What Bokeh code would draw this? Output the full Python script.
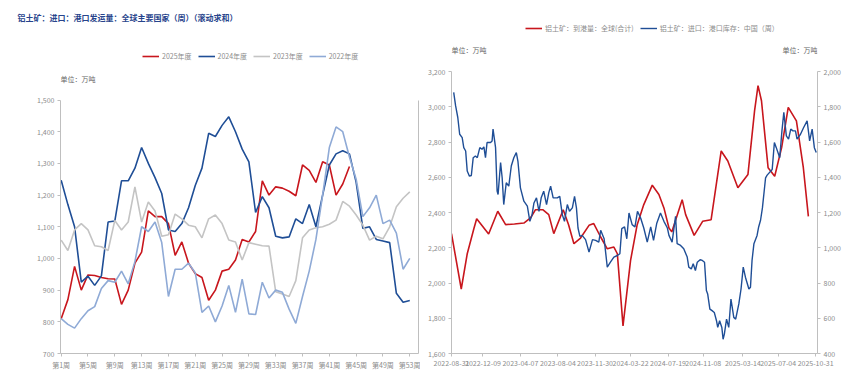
from bokeh.plotting import figure
from bokeh.models import (Range1d, LinearAxis, FixedTicker, NumeralTickFormatter, Legend,
                          LegendItem, Label, DatetimeTickFormatter)
from bokeh.layouts import row
from bokeh.embed import file_html
from bokeh.resources import INLINE
import pandas as pd

# ---------------- left chart data ----------------
weeks = list(range(1, 54))
week_ticks = [1, 5, 9, 13, 17, 21, 25, 29, 33, 37, 41, 45, 49, 53]
week_tick_labels = ["第1周", "第5周", "第9周", "第13周", "第17周", "第21周", "第25周",
                    "第29周", "第33周", "第37周", "第41周", "第45周", "第49周", "第53周"]
series_names = ["2025年度", "2024年度", "2023年度", "2022年度"]

s2025 = [810, 870, 975, 900, 948, 946, 940, 936, 935, 855,
         900, 985, 1020, 1150, 1132, 1132, 1110, 1010, 1052, 985,
         952, 940, 868, 900, 960, 966, 995, 1060, 1052, 1085,
         1245, 1200, 1226, 1222, 1212, 1198, 1295, 1278, 1240, 1305,
         1295, 1200, 1235, 1290]
s2024 = [1247, 1170, 1100, 925, 944, 915, 945, 1115, 1118, 1245,
         1245, 1285, 1350, 1300, 1255, 1205, 1090, 1085, 1110, 1160,
         1230, 1285, 1395, 1385, 1420, 1447, 1400, 1345, 1305, 1145,
         1195, 1160, 1070, 1065, 1068, 1125, 1110, 1170, 1100, 1200,
         1295, 1330, 1340, 1330, 1240, 1095, 1100, 1060, 1055, 1050,
         890, 862, 867]
s2023 = [1058, 1025, 1090, 1110, 1090, 1040, 1037, 1025, 1120, 1090,
         1115, 1226, 1115, 1178, 1150, 1070, 1075, 1140, 1125, 1105,
         1100, 1065, 1125, 1137, 1110, 1058, 1052, 995, 1050, 1045,
         1040, 1039, 895, 888, 880, 930, 1065, 1090, 1097, 1100,
         1108, 1121, 1180, 1165, 1137, 1105, 1058, 1070, 1062, 1100,
         1163, 1190, 1210]
s2022 = [810, 792, 780, 810, 835, 848, 905, 930, 925, 960,
         920, 990, 1100, 1085, 1115, 1050, 880, 966, 966, 985,
         955, 830, 850, 800, 850, 915, 830, 935, 825, 823,
         925, 875, 900, 893, 840, 795, 880, 960, 1060, 1200,
         1350, 1415, 1400, 1320, 1250, 1132, 1160, 1200, 1110, 1121,
         1080, 966, 1000]

# ---------------- right chart data ----------------
arrival_name = "铝土矿：到港量：全球(合计)"
stock_name = "铝土矿：进口：港口库存：中国（周）"
arrival_dates = ["2022-08-31", "2022-10-01", "2022-10-20", "2022-11-10", "2022-11-19", "2022-12-27",
                 "2023-01-25", "2023-02-19", "2023-03-19", "2023-04-18", "2023-05-09", "2023-05-25",
                 "2023-06-17", "2023-07-06", "2023-07-22", "2023-08-21", "2023-09-07", "2023-09-24",
                 "2023-10-15", "2023-11-11", "2023-11-26", "2023-12-18", "2024-01-08", "2024-01-29",
                 "2024-02-09", "2024-02-27", "2024-03-22", "2024-04-12", "2024-05-03", "2024-05-30",
                 "2024-06-20", "2024-07-06", "2024-07-22", "2024-07-31", "2024-09-02", "2024-09-13",
                 "2024-10-10", "2024-11-06", "2024-12-03", "2025-01-04", "2025-01-25", "2025-02-26",
                 "2025-03-30", "2025-04-20", "2025-05-01", "2025-05-12", "2025-06-02", "2025-06-23",
                 "2025-07-15", "2025-08-05", "2025-08-31", "2025-09-22", "2025-10-08"]
arrival_values = [2280, 1966, 2166, 2308, 2365, 2278,
                  2407, 2331, 2335, 2340, 2369, 2416,
                  2416, 2388, 2280, 2416, 2331, 2223,
                  2255, 2327, 2337, 2261, 2194, 2204,
                  2166, 1757, 2128, 2331, 2445, 2555,
                  2502, 2426, 2312, 2290, 2473, 2388,
                  2270, 2350, 2359, 2749, 2692, 2540,
                  2616, 2977, 3120, 3034, 2654, 2606,
                  2768, 2996, 2920, 2654, 2378]

stock_dates = ["2022-09-07", "2022-09-13", "2022-09-20", "2022-09-26", "2022-10-04", "2022-10-09",
               "2022-10-15", "2022-10-20", "2022-10-27", "2022-11-02", "2022-11-08", "2022-11-15",
               "2022-11-21", "2022-11-29", "2022-12-06", "2022-12-12", "2022-12-17", "2022-12-22",
               "2023-01-02", "2023-01-07", "2023-01-10", "2023-01-18", "2023-01-23", "2023-01-26",
               "2023-02-03", "2023-02-08", "2023-02-13", "2023-02-21", "2023-03-01", "2023-03-09",
               "2023-03-17", "2023-03-25", "2023-03-30", "2023-04-07", "2023-04-18", "2023-04-29",
               "2023-05-07", "2023-05-14", "2023-05-20", "2023-05-28", "2023-06-05", "2023-06-12",
               "2023-06-20", "2023-06-29", "2023-07-06", "2023-07-12", "2023-07-20", "2023-08-02",
               "2023-08-10", "2023-08-18", "2023-08-25", "2023-09-03", "2023-09-10", "2023-09-19",
               "2023-09-26", "2023-10-02", "2023-10-07", "2023-10-13", "2023-10-20", "2023-10-31",
               "2023-11-11", "2023-11-22", "2023-12-02", "2023-12-12", "2023-12-18", "2023-12-29",
               "2024-01-08", "2024-01-18", "2024-01-29", "2024-02-09", "2024-02-17", "2024-02-23",
               "2024-03-03", "2024-03-10", "2024-03-17", "2024-03-27", "2024-04-05", "2024-04-13",
               "2024-04-23", "2024-05-03", "2024-05-14", "2024-05-25", "2024-06-03", "2024-06-13",
               "2024-06-25", "2024-07-06", "2024-07-17", "2024-07-22", "2024-08-01", "2024-08-06",
               "2024-08-12", "2024-08-17", "2024-08-28", "2024-09-07", "2024-09-18", "2024-09-23",
               "2024-10-01", "2024-10-07", "2024-10-14", "2024-10-20", "2024-10-29", "2024-11-05",
               "2024-11-12", "2024-11-18", "2024-11-22", "2024-11-29", "2024-12-06", "2024-12-13",
               "2024-12-20", "2024-12-24", "2024-12-30", "2025-01-06", "2025-01-10", "2025-01-14",
               "2025-01-21", "2025-01-28", "2025-02-04", "2025-02-13", "2025-02-19", "2025-03-01",
               "2025-03-08", "2025-03-15", "2025-03-22", "2025-04-02", "2025-04-07", "2025-04-12",
               "2025-04-18", "2025-04-28", "2025-05-03", "2025-05-09", "2025-05-15", "2025-05-25",
               "2025-05-30", "2025-06-15", "2025-06-22", "2025-06-28", "2025-07-09", "2025-07-16",
               "2025-07-22", "2025-07-30", "2025-08-06", "2025-08-13", "2025-08-20", "2025-08-28",
               "2025-09-02", "2025-09-13", "2025-09-23", "2025-10-04", "2025-10-12", "2025-10-20",
               "2025-10-27", "2025-11-02"]
stock_values = [1882, 1806, 1739, 1644, 1625, 1568,
                1549, 1435, 1406, 1410, 1511, 1521,
                1511, 1568, 1559, 1572, 1511, 1597,
                1597, 1606, 1673, 1568, 1321, 1302,
                1483, 1397, 1245, 1369, 1350, 1464,
                1511, 1540, 1492, 1340, 1264, 1236,
                1150, 1188, 1254, 1283, 1207, 1283,
                1321, 1245, 1311, 1350, 1283, 1283,
                1292, 1188, 1150, 1245, 1207, 1226,
                1292, 1226, 1112, 1065, 1070, 1046,
                975, 1046, 1042, 1032, 1099, 1051,
                890, 918, 947, 956, 966, 1108,
                1118, 1051, 1197, 1131, 1118, 1207,
                1169, 1112, 1032, 1118, 1042, 1137,
                1197, 1150, 1112, 1070, 1032, 1099,
                1178, 1023, 1013, 994, 947, 890,
                880, 909, 871, 918, 932, 928,
                918, 757, 738, 652, 643, 633,
                586, 548, 586, 548, 481, 510,
                595, 548, 709, 605, 595, 681,
                766, 890, 833, 766, 776, 928,
                1023, 1070, 1118, 1156, 1226, 1397,
                1412, 1444, 1597, 1568, 1511, 1663,
                1768, 1635, 1616, 1673, 1663, 1663,
                1616, 1644, 1682, 1720, 1606, 1673,
                1568, 1540]
date_ticks = ["2022-08-31", "2022-12-09", "2023-04-07", "2023-08-04", "2023-11-30", "2024-03-22",
              "2024-07-19", "2024-11-08", "2025-03-14", "2025-07-04", "2025-10-31"]
unit_text = "单位：万吨"
title_text = "铝土矿：进口：港口发运量：全球主要国家（周）（滚动求和）"

# ---------------- styles ----------------
CJK = "Noto Sans CJK SC"
NARROW = "'Liberation Sans Narrow', 'Noto Sans CJK SC'"
AXIS_C = "#BFBFBF"
LABEL_C = "#8C8C8C"
UNIT_C = "#666666"
RED = "#C8161D"
DBLUE = "#1F4E96"
GRAY = "#C4C4C4"
LBLUE = "#8FAAD6"

FRAME_TOP = 22   # both frames share the same top (row aligns them)


def style_axis(ax):
    ax.axis_line_color = AXIS_C
    ax.major_tick_line_color = AXIS_C
    ax.minor_tick_line_color = None
    ax.major_tick_in = 0
    ax.major_tick_out = 3
    ax.major_label_text_color = LABEL_C
    ax.major_label_text_font = NARROW
    ax.major_label_text_font_size = "7px"
    ax.major_label_standoff = 3


def unit_label(x, y, align):
    return Label(x=x, y=y, x_units="screen", y_units="screen", text=unit_text,
                 text_font=CJK, text_font_size="7px", text_color=UNIT_C,
                 text_baseline="middle", text_align=align)


# ---------------- left figure ----------------
L_DATA_TOP, L_BOTTOM = 100, 355
y_lo, y_hi = 700, 1500
y_frame_hi = y_hi + (y_hi - y_lo) * (L_DATA_TOP - FRAME_TOP) / (L_BOTTOM - L_DATA_TOP)

p1 = figure(width=420, height=383, output_backend="svg", toolbar_location=None,
            title=title_text, x_range=Range1d(0.9, 54.3), y_range=Range1d(y_lo, y_frame_hi),
            min_border_left=60, min_border_right=2, min_border_top=FRAME_TOP,
            min_border_bottom=383 - L_BOTTOM)
p1.outline_line_color = None
p1.grid.visible = False
p1.title.align = "left"
p1.title.offset = -43
p1.title.text_font = CJK
p1.title.text_font_style = "bold"
p1.title.text_font_size = "8px"
p1.title.text_color = "#27448C"
p1.title.standoff = 0

r25 = p1.line(weeks[:len(s2025)], s2025, line_color=RED, line_width=1.6)
r24 = p1.line(weeks[:len(s2024)], s2024, line_color=DBLUE, line_width=1.6)
r23 = p1.line(weeks[:len(s2023)], s2023, line_color=GRAY, line_width=1.6)
r22 = p1.line(weeks[:len(s2022)], s2022, line_color=LBLUE, line_width=1.6)

p1.xaxis.ticker = FixedTicker(ticks=week_ticks)
p1.xaxis.major_label_overrides = {t: l for t, l in zip(week_ticks, week_tick_labels)}
p1.yaxis.ticker = FixedTicker(ticks=list(range(y_lo, y_hi + 1, 100)))
p1.yaxis.formatter = NumeralTickFormatter(format="0,0")
p1.yaxis.bounds = (y_lo, y_hi)
style_axis(p1.xaxis[0])
style_axis(p1.yaxis[0])

rax = LinearAxis(ticker=FixedTicker(ticks=[]), axis_line_color=AXIS_C, bounds=(y_lo, y_hi),
                 major_tick_line_color=None, minor_tick_line_color=None,
                 major_label_text_font_size="0px", major_label_standoff=0)
p1.add_layout(rax, "right")

leg1 = Legend(items=[LegendItem(label=n, renderers=[r]) for n, r in
                     zip(series_names, [r25, r24, r23, r22])],
              orientation="horizontal", location=(82, L_BOTTOM - 53 - 10),
              label_text_font=NARROW, label_text_font_size="7px", label_text_color=LABEL_C,
              glyph_width=17, glyph_height=8, label_standoff=3, spacing=6, label_height=8,
              padding=0, margin=0, border_line_color=None, background_fill_alpha=0)
p1.add_layout(leg1, "center")
p1.add_layout(unit_label(0, L_BOTTOM - 80, "left"))

# ---------------- right figure ----------------
R_DATA_TOP, R_BOTTOM = 71, 353
a_lo, a_hi = 1600, 3200
s_lo, s_hi = 400, 2000
ext = (a_hi - a_lo) * (R_DATA_TOP - FRAME_TOP) / (R_BOTTOM - R_DATA_TOP)
x_start = pd.Timestamp("2022-08-31")
x_end = pd.Timestamp("2025-11-06")
p2 = figure(width=428, height=383, output_backend="svg", toolbar_location=None,
            x_axis_type="datetime", x_range=Range1d(x_start, x_end),
            y_range=Range1d(a_lo, a_hi + ext),
            min_border_left=31, min_border_right=31, min_border_top=FRAME_TOP,
            min_border_bottom=383 - R_BOTTOM)
p2.outline_line_color = None
p2.grid.visible = False
p2.extra_y_ranges = {"stock": Range1d(s_lo, s_hi + ext)}

ra = p2.line(pd.to_datetime(arrival_dates), arrival_values, line_color=RED, line_width=1.6)
rs = p2.line(pd.to_datetime(stock_dates), stock_values, line_color=DBLUE, line_width=1.4,
             y_range_name="stock")

p2.xaxis.ticker = FixedTicker(ticks=[pd.Timestamp(d).value / 1e6 for d in date_ticks])
fmt = "%Y-%m-%d"
p2.xaxis.formatter = DatetimeTickFormatter(days=fmt, months=fmt, years=fmt, hours=fmt,
                                           minutes=fmt, seconds=fmt, milliseconds=fmt,
                                           microseconds=fmt, minsec=fmt, hourmin=fmt)
p2.yaxis.ticker = FixedTicker(ticks=list(range(a_lo, a_hi + 1, 200)))
p2.yaxis.formatter = NumeralTickFormatter(format="0,0")
p2.yaxis.bounds = (a_lo, a_hi)
style_axis(p2.xaxis[0])
style_axis(p2.yaxis[0])

rax2 = LinearAxis(y_range_name="stock", ticker=FixedTicker(ticks=list(range(s_lo, s_hi + 1, 200))),
                  formatter=NumeralTickFormatter(format="0,0"), bounds=(s_lo, s_hi))
style_axis(rax2)
p2.add_layout(rax2, "right")

leg2 = Legend(items=[LegendItem(label=arrival_name, renderers=[ra]),
                     LegendItem(label=stock_name, renderers=[rs])],
              orientation="horizontal", location=(74, R_BOTTOM - (FRAME_TOP + 1) - 10),
              label_text_font=CJK, label_text_font_size="7px", label_text_color=LABEL_C,
              glyph_width=17, glyph_height=8, label_standoff=3, spacing=6, label_height=8,
              padding=0, margin=0, border_line_color=None, background_fill_alpha=0)
p2.add_layout(leg2, "center")
p2.add_layout(unit_label(0, R_BOTTOM - 49, "left"))
p2.add_layout(unit_label(366, R_BOTTOM - 49, "right"))

layout = row(p1, p2, spacing=0)
open("out.html", "w").write(file_html(layout, INLINE))
